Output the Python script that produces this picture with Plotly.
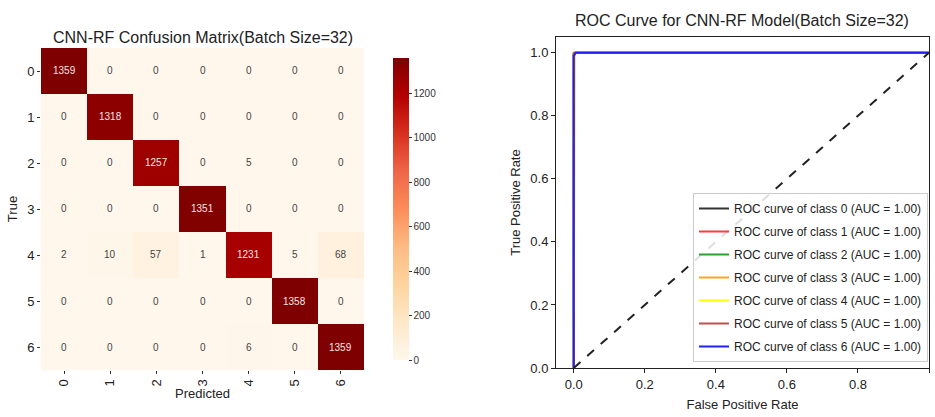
import plotly.graph_objects as go

classes = ["0", "1", "2", "3", "4", "5", "6"]
cm = [
    [1359, 0, 0, 0, 0, 0, 0],
    [0, 1318, 0, 0, 0, 0, 0],
    [0, 0, 1257, 0, 5, 0, 0],
    [0, 0, 0, 1351, 0, 0, 0],
    [2, 10, 57, 1, 1231, 5, 68],
    [0, 0, 0, 0, 0, 1358, 0],
    [0, 0, 0, 0, 6, 0, 1359],
]
cbar_ticks = [0, 200, 400, 600, 800, 1000, 1200]

roc_fpr = [
    [0.0, 0.0, 0.004, 1.0],
    [0.0, 0.0, 0.003, 1.0],
    [0.0, 0.0, 0.004, 1.0],
    [0.0, 0.0, 0.002, 1.0],
    [0.0, 0.0, 0.002, 1.0],
    [0.0, 0.0, 0.004, 1.0],
    [0.0, 0.0, 0.006, 1.0],
]
roc_tpr = [
    [0.0, 0.995, 1.0, 1.0],
    [0.0, 0.998, 1.0, 1.0],
    [0.0, 0.996, 1.0, 1.0],
    [0.0, 0.997, 1.0, 1.0],
    [0.0, 0.99, 1.0, 1.0],
    [0.0, 0.999, 1.0, 1.0],
    [0.0, 0.99, 1.0, 1.0],
]
roc_auc = [1.00, 1.00, 1.00, 1.00, 1.00, 1.00, 1.00]
roc_colors = ["#333333", "#ff3b3b", "#2ca02c", "#ffa520", "#ffff00", "#c0504d", "#2020ff"]
diag = [0.0, 1.0]

FONT = "Liberation Sans, Arial, sans-serif"

orrd = [
    [0.0, "#fff7ec"], [0.125, "#fee8c8"], [0.25, "#fdd49e"], [0.375, "#fdbb84"],
    [0.5, "#fc8d59"], [0.625, "#ef6548"], [0.75, "#d7301f"], [0.875, "#b30000"],
    [1.0, "#7f0000"],
]

fig = go.Figure()

zmax = max(max(r) for r in cm)
fig.add_trace(go.Heatmap(
    z=cm, x=classes, y=classes, colorscale=orrd, zmin=0, zmax=zmax,
    xaxis="x", yaxis="y", showscale=True, hoverinfo="z",
    colorbar=dict(
        x=383 / 935, xanchor="left", y=1 - 370 / 417, yanchor="bottom",
        len=322 / 417, lenmode="fraction", thickness=16, outlinewidth=0,
        tickvals=cbar_ticks, ticks="outside", ticklen=3, tickcolor="#333",
        tickfont=dict(family=FONT, size=10, color="#333"),
    ),
))

annotations = []
for i, row in enumerate(cm):
    for j, v in enumerate(row):
        annotations.append(dict(
            x=classes[j], y=classes[i], xref="x", yref="y", text=str(v),
            showarrow=False,
            font=dict(family=FONT, size=10, color="#f2e6e6" if v > zmax * 0.5 else "#444444"),
        ))

for k in range(len(classes)):
    fig.add_trace(go.Scatter(
        x=roc_fpr[k], y=roc_tpr[k], mode="lines", xaxis="x2", yaxis="y2",
        line=dict(color=roc_colors[k], width=2), legendgroup=str(k),
        name=f"ROC curve of class {k} (AUC = {roc_auc[k]:.2f})",
    ))
fig.add_trace(go.Scatter(
    x=diag, y=diag, mode="lines", xaxis="x2", yaxis="y2",
    line=dict(color="#222", width=2, dash="dash"), showlegend=False,
))

annotations += [
    dict(text="CNN-RF Confusion Matrix(Batch Size=32)", x=203 / 935, y=1 - 37 / 417,
         xref="paper", yref="paper", showarrow=False, xanchor="center", yanchor="middle",
         font=dict(family=FONT, size=16, color="#222")),
    dict(text="ROC Curve for CNN-RF Model(Batch Size=32)", x=742 / 935, y=1 - 20 / 417,
         xref="paper", yref="paper", showarrow=False, xanchor="center", yanchor="middle",
         font=dict(family=FONT, size=16, color="#222")),
]

axfont = dict(family=FONT, size=13, color="#222")
tfont = dict(family=FONT, size=13, color="#222")
fig.update_layout(
    width=935, height=417, margin=dict(l=0, r=0, t=0, b=0, autoexpand=False),
    paper_bgcolor="white", plot_bgcolor="white",
    annotations=annotations,
    xaxis=dict(domain=[41 / 935, 364 / 935], anchor="y", type="category", automargin=False,
               tickangle=-90, ticks="outside", ticklen=3, tickcolor="#333",
               tickfont=axfont, showgrid=False, zeroline=False,
               title=dict(text="Predicted", font=tfont, standoff=2)),
    yaxis=dict(domain=[1 - 370 / 417, 1 - 48 / 417], anchor="x", type="category", automargin=False,
               autorange="reversed", ticks="outside", ticklen=3, tickcolor="#333",
               tickfont=axfont, showgrid=False, zeroline=False,
               title=dict(text="True", font=tfont, standoff=6)),
    xaxis2=dict(domain=[556 / 935, 929 / 935], anchor="y2", range=[-0.05, 1.0], automargin=False,
                tickvals=[0, 0.2, 0.4, 0.6, 0.8, 1.0], tickformat=".1f",
                ticks="outside", ticklen=4, tickcolor="#222",
                showline=True, linecolor="#222", linewidth=1, mirror=True,
                showgrid=False, zeroline=False, tickfont=axfont,
                title=dict(text="False Positive Rate", font=tfont, standoff=9)),
    yaxis2=dict(domain=[1 - 368 / 417, 1 - 37 / 417], anchor="x2", range=[0, 1.05], automargin=False,
                tickvals=[0, 0.2, 0.4, 0.6, 0.8, 1.0], tickformat=".1f",
                ticks="outside", ticklen=4, tickcolor="#222",
                showline=True, linecolor="#222", linewidth=1, mirror=True,
                showgrid=False, zeroline=False, tickfont=axfont,
                title=dict(text="True Positive Rate", font=tfont, standoff=6)),
    legend=dict(x=928 / 935, xanchor="right", y=1 - 362 / 417, yanchor="bottom",
                bgcolor="rgba(255,255,255,0.85)", bordercolor="#ccc", borderwidth=1,
                font=dict(family=FONT, size=12, color="#222"), itemwidth=30,
                tracegroupgap=4),
)

fig.write_html("out.html", config={"displayModeBar": False},
               post_script="document.body.style.margin='0';")
